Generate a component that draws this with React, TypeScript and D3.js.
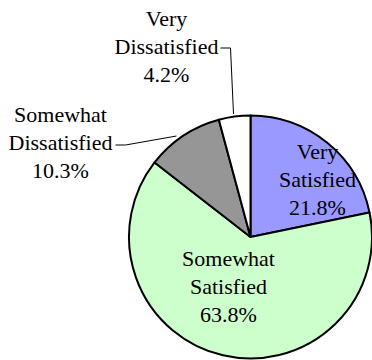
import * as d3 from 'd3';

const categories = ['Very Satisfied', 'Somewhat Satisfied', 'Somewhat Dissatisfied', 'Very Dissatisfied'];
const values = [21.8, 63.8, 10.3, 4.2];
const labelLines = [
  ['Very', 'Satisfied', '21.8%'],
  ['Somewhat', 'Satisfied', '63.8%'],
  ['Somewhat', 'Dissatisfied', '10.3%'],
  ['Very', 'Dissatisfied', '4.2%'],
];
const colors = ['#9999ff', '#ccffcc', '#969696', '#ffffff'];

const width = 372;
const height = 360;
const cx = 250.5;
const cy = 237;
const radius = 121.5;
const lineH = 28;

// label anchors (center of the middle line), relative to pie center
const labelPos: [number, number][] = [
  [67, -57],
  [-22, 50],
  [-190, -94],
  [-84, -190],
];

// leader lines for the outside labels
const leaders: [number, number][][] = [
  [],
  [],
  [[-135, -92], [-125, -92], [-74, -101]],
  [[-30, -189], [-20, -189], [-17, -123]],
];

const App = () => {
  const arcs = d3.pie<number>().sort(null).value((d) => d)(values);
  const arc = d3.arc<d3.PieArcDatum<number>>().innerRadius(0).outerRadius(radius);
  const line = d3.line();

  return (
    <svg width={width} height={height} style={{ position: 'absolute', left: 0, top: 0, display: 'block' }}>
      <g transform={`translate(${cx},${cy})`}>
        {arcs.map((a, i) => (
          <path key={categories[i]} d={arc(a) ?? ''} fill={colors[i]} stroke="#000" strokeWidth={2} strokeLinejoin="round" />
        ))}
        {leaders.map((pts, i) =>
          pts.length ? <path key={i} d={line(pts) ?? ''} fill="none" stroke="#000" strokeWidth={1} /> : null,
        )}
        {arcs.map((_, i) => (
          <text
            key={categories[i]}
            textAnchor="middle"
            style={{ fontFamily: 'Liberation Serif', fontSize: 22 }}
            fill="#000"
          >
            {labelLines[i].map((t, j) => (
              <tspan key={j} x={labelPos[i][0]} y={labelPos[i][1] + (j - 1) * lineH + 7}>
                {t}
              </tspan>
            ))}
          </text>
        ))}
      </g>
    </svg>
  );
};

export default App;
